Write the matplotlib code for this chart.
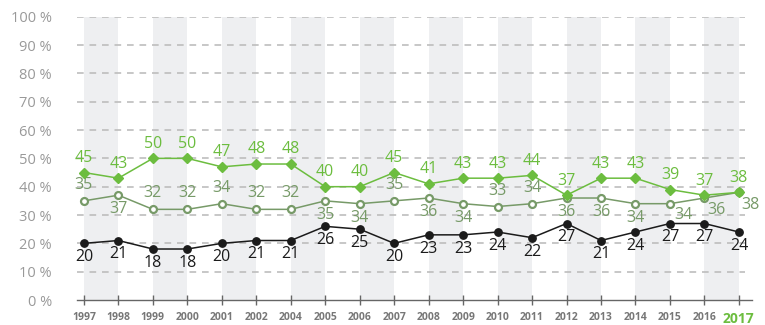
import matplotlib
matplotlib.use("Agg")
import matplotlib.pyplot as plt

plt.rcParams['font.family'] = ['Open Sans', 'DejaVu Sans']

years = ['1997', '1998', '1999', '2000', '2001', '2002', '2004', '2005', '2006', '2007',
         '2008', '2009', '2010', '2011', '2012', '2013', '2014', '2015', '2016', '2017']
top_series = [45, 43, 50, 50, 47, 48, 48, 40, 40, 45, 41, 43, 43, 44, 37, 43, 43, 39, 37, 38]
mid_series = [35, 37, 32, 32, 34, 32, 32, 35, 34, 35, 36, 34, 33, 34, 36, 36, 34, 34, 36, 38]
low_series = [20, 21, 18, 18, 20, 21, 21, 26, 25, 20, 23, 23, 24, 22, 27, 21, 24, 27, 27, 24]

# label placement for the middle series: (dx, dy) in points
UP, DN = (0, 11.5), (0, -10)
mid_offsets = [UP, DN, UP, UP, UP, UP, UP, DN, DN, UP,
               DN, DN, UP, UP, DN, DN, DN, (9.5, -8), (9, -8.5), (8.5, -9)]

GREEN = '#6cbd3f'
OLIVE = '#779a68'
BLACK = '#1b1b1b'
GRAY = '#999999'

fig = plt.figure(figsize=(7.65, 3.25), dpi=100)
ax = fig.add_axes([0.1007, 0.0769, 0.8823, 0.8717])
x = list(range(len(years)))

for i in range(0, len(years), 2):
    ax.axvspan(i, i + 1, color='#eeeff1', zorder=0, lw=0)

for v in range(10, 101, 10):
    ax.axhline(v, color='#bdbdbd', lw=1.2, ls=(0, (4, 3.5)), zorder=1,
               xmax=0.99)

ax.plot(x, low_series, color=BLACK, lw=1.1, marker='o', ms=5.3, zorder=3)
ax.plot(x, mid_series, color=OLIVE, lw=1.1, marker='o', ms=5, mfc='white',
        mew=1.6, zorder=3)
ax.plot(x, top_series, color=GREEN, lw=1.1, marker='D', ms=4.6, zorder=4)

for i, v in enumerate(top_series):
    ax.annotate(str(v), (i, v), xytext=(0, 10.5), textcoords='offset points',
                ha='center', va='center', color=GREEN, fontsize=11.5)
for i, v in enumerate(mid_series):
    dx, dy = mid_offsets[i]
    ax.annotate(str(v), (i, v), xytext=(dx, dy), textcoords='offset points',
                ha='center', va='center', color=OLIVE, fontsize=11.5)
for i, v in enumerate(low_series):
    ax.annotate(str(v), (i, v), xytext=(0, -10), textcoords='offset points',
                ha='center', va='center', color=BLACK, fontsize=11.5)

ax.set_xlim(-0.2, 19.38)
ax.set_ylim(0, 100)
ax.set_xticks(x)
ax.set_xticklabels(years, fontsize=7.5, fontweight='bold', color='#777777')
lbl = ax.get_xticklabels()[-1]
lbl.set_color(GREEN)
lbl.set_fontsize(10)
ax.tick_params(axis='x', direction='inout', length=7, width=1, color='#666666', pad=5)
ax.set_yticks(range(0, 101, 10))
ax.set_yticklabels([f'{v} %' for v in range(0, 101, 10)], fontsize=10.5, color=GRAY)
ax.tick_params(axis='y', length=0, pad=18)

for s in ['top', 'right', 'left']:
    ax.spines[s].set_visible(False)
ax.spines['bottom'].set_color('#666666')
ax.spines['bottom'].set_linewidth(1)

fig.savefig('out.png', dpi=100)
